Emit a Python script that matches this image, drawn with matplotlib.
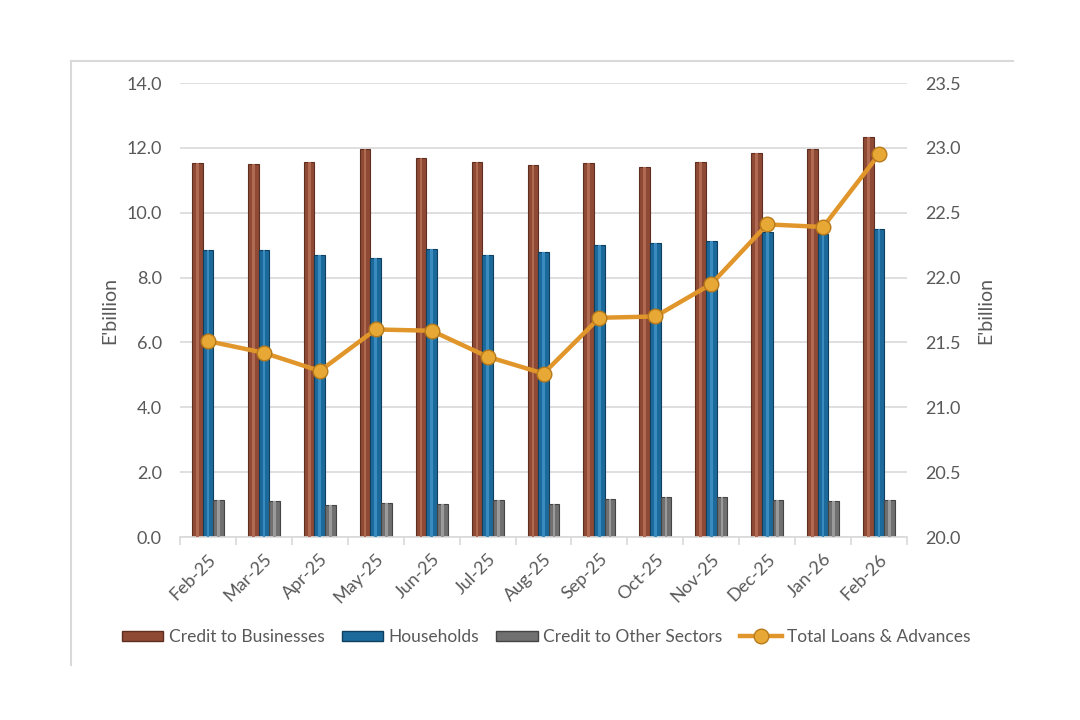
import matplotlib.pyplot as plt
import numpy as np
from matplotlib.lines import Line2D

months = ['Feb-25', 'Mar-25', 'Apr-25', 'May-25', 'Jun-25', 'Jul-25', 'Aug-25',
          'Sep-25', 'Oct-25', 'Nov-25', 'Dec-25', 'Jan-26', 'Feb-26']
businesses = [11.52, 11.49, 11.57, 11.96, 11.70, 11.56, 11.47,
              11.54, 11.42, 11.57, 11.83, 11.96, 12.34]
households = [8.85, 8.85, 8.70, 8.59, 8.88, 8.70, 8.80,
              9.00, 9.08, 9.14, 9.42, 9.33, 9.50]
other_sectors = [1.14, 1.11, 0.99, 1.06, 1.02, 1.14, 1.02,
                 1.17, 1.22, 1.24, 1.15, 1.11, 1.15]
total_loans = [21.51, 21.42, 21.28, 21.60, 21.59, 21.39, 21.26,
               21.69, 21.70, 21.95, 22.41, 22.39, 22.95]

plt.rcParams['font.family'] = ['Lato', 'DejaVu Sans']
txt = '#595959'

fig = plt.figure(figsize=(10.8, 7.2), dpi=100)
ax = fig.add_axes([180/1080, 1-537/720, 727/1080, 454/720])
ax2 = ax.twinx()

x = np.arange(len(months))
w = 0.19
ax.bar(x - w, businesses, w, color='#8E4A35', edgecolor='#5E2E20', linewidth=0.8, zorder=2)
ax.bar(x, households, w, color='#1C6A9B', edgecolor='#0F3F5E', linewidth=0.8, zorder=2)
ax.bar(x + w, other_sectors, w, color='#707070', edgecolor='#444444', linewidth=0.8, zorder=2)
# light highlight stripe to hint the 3-D look
ax.bar(x - w, businesses, w*0.25, color='#B06A52', linewidth=0, zorder=3)
ax.bar(x, households, w*0.25, color='#3A8CC0', linewidth=0, zorder=3)
ax.bar(x + w, other_sectors, w*0.25, color='#9A9A9A', linewidth=0, zorder=3)

ax2.plot(x, total_loans, color='#E0962A', linewidth=3.2, marker='o', markersize=10.5,
         markerfacecolor='#E8A835', markeredgecolor='#B87A1A', markeredgewidth=1, zorder=5)

ax.set_xlim(-0.5, len(months) - 0.5)
ax.set_ylim(0, 14)
ax.set_yticks(np.arange(0, 14.1, 2))
ax.set_yticklabels([f'{v:.1f}' for v in np.arange(0, 14.1, 2)])
ax2.set_ylim(20, 23.5)
ax2.set_yticks(np.arange(20, 23.51, 0.5))
ax2.set_yticklabels([f'{v:.1f}' for v in np.arange(20, 23.51, 0.5)])

ax.grid(axis='y', color='#D9D9D9', linewidth=1.2, zorder=0)
ax.set_axisbelow(True)
for a in (ax, ax2):
    for s in a.spines.values():
        s.set_visible(False)
ax.spines['bottom'].set_visible(True)
ax.spines['bottom'].set_color('#D9D9D9')
ax.spines['bottom'].set_linewidth(1.2)

ax.set_xticks(np.arange(-0.5, len(months), 1), minor=True)
ax.set_xticks(x)
ax.set_xticklabels(months, rotation=45, ha='right', rotation_mode='anchor')
ax.tick_params(axis='x', which='major', length=0, pad=10, labelsize=13, labelcolor=txt)
ax.tick_params(axis='x', which='minor', length=6, color='#D9D9D9', width=1.2)
ax.tick_params(axis='y', length=0, pad=13, labelsize=13, labelcolor=txt)
ax2.tick_params(axis='y', length=0, pad=13, labelsize=13, labelcolor=txt)

ax.set_ylabel("E'billion", fontsize=14, color=txt, labelpad=6)
ax2.set_ylabel("E'billion", fontsize=14, color=txt, labelpad=12)

handles = [plt.Rectangle((0, 0), 1, 1, facecolor='#8E4A35', edgecolor='#5E2E20'),
           plt.Rectangle((0, 0), 1, 1, facecolor='#1C6A9B', edgecolor='#0F3F5E'),
           plt.Rectangle((0, 0), 1, 1, facecolor='#707070', edgecolor='#444444'),
           Line2D([], [], color='#E0962A', linewidth=3.2, marker='o', markersize=10.5,
                  markerfacecolor='#E8A835', markeredgecolor='#B87A1A')]
labels = ['Credit to Businesses', 'Households', 'Credit to Other Sectors', 'Total Loans & Advances']
fig.legend(handles, labels, loc='center', bbox_to_anchor=(546/1080, 1-637/720), ncol=4,
           frameon=False, fontsize=12.5, labelcolor=txt, handlelength=2.4, handleheight=0.55,
           handletextpad=0.3, columnspacing=1.0)

# outer chart frame (top and left edges visible)
fig.add_artist(Line2D([71/1080, 1013/1080], [1-61/720, 1-61/720], color='#D9D9D9', linewidth=1.5))
fig.add_artist(Line2D([71/1080, 71/1080], [1-61/720, 1-665/720], color='#D9D9D9', linewidth=1.5))

fig.savefig('out.png', dpi=100)
